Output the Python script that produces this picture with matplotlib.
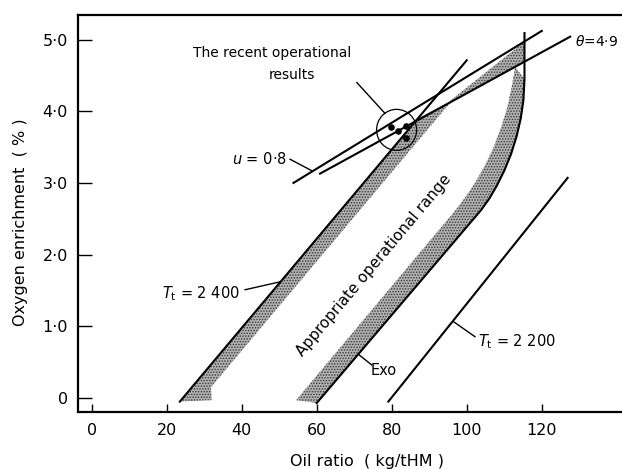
import matplotlib
matplotlib.use("Agg")
import matplotlib.pyplot as plt
from matplotlib.patches import Polygon, Ellipse
import numpy as np

plt.rcParams['font.family'] = ['DejaVu Sans']
plt.rcParams['mathtext.fontset'] = 'dejavusans'
plt.rcParams['hatch.linewidth'] = 0.7

# ---- data ----
x_ticks = [0, 20, 40, 60, 80, 100, 120]
x_ticklabels = ['0', '20', '40', '60', '80', '100', '120']
y_ticks = [0, 1, 2, 3, 4, 5]
y_ticklabels = ['0', '1·0', '2·0', '3·0', '4·0', '5·0']

# T_t = 2400 boundary line
t2400_x = [23.5, 100.0]
t2400_y = [-0.05, 4.71]
# T_t = 2200 line
t2200_x = [79.1, 126.9]
t2200_y = [-0.05, 3.07]
# u = 0.8 line
u_x = [53.8, 120.0]
u_y = [3.00, 5.12]
# theta = 4.9 line
theta_x = [60.9, 127.6]
theta_y = [3.13, 5.04]
# Exo curve
exo_x = [60.0, 103.8, 106.0, 108.0, 110.0, 111.8, 113.3, 114.4, 115.1, 115.4, 115.4]
exo_y = [-0.07, 2.62, 2.78, 2.96, 3.17, 3.40, 3.65, 3.90, 4.15, 4.45, 5.09]
# inner edge of the Exo band
exo_in_x = [54.5, 97.0, 99.6, 102.2, 104.8, 107.2, 109.2, 110.9, 112.1, 112.9]
exo_in_y = [-0.03, 2.62, 2.80, 3.00, 3.24, 3.50, 3.78, 4.07, 4.37, 4.62]
# left band (right of T_t = 2400)
left_band_x = [23.5, 86.4, 95.6, 31.8, 32.0]
left_band_y = [-0.05, 3.86, 4.12, 0.15, -0.03]
# upper band between u and theta lines
upper_band_x = [86.0, 115.4, 115.4, 86.0]
upper_band_y = [3.75, 4.97, 4.69, 3.87]
# recent operational results
pts_x = [79.7, 81.8, 83.8, 83.8]
pts_y = [3.78, 3.73, 3.79, 3.62]
circle_c = (81.3, 3.74)

fig = plt.figure(figsize=(6.22, 4.69), dpi=100)
W, H = 622, 469
l, r, b, t = 77.7, 622, 411.7, 15
ax = fig.add_axes([l / W, 1 - b / H, (r - l) / W, (b - t) / H])
ax.set_xlim(-3.73, 141.4)
ax.set_ylim(-0.191, 5.342)
ax.spines['right'].set_visible(False)
for s in ['left', 'bottom', 'top']:
    ax.spines[s].set_linewidth(1.6)

band = dict(facecolor='#b0b0b0', edgecolor='#3a3a3a', hatch='......', lw=0, zorder=1)
ax.add_patch(Polygon(list(zip(left_band_x, left_band_y)), closed=True, **band))
ax.add_patch(Polygon(list(zip(upper_band_x, upper_band_y)), closed=True, **band))
rb = list(zip(exo_x[:-1], exo_y[:-1])) + [(112.9, 4.62)] + list(zip(exo_in_x[::-1], exo_in_y[::-1]))
ax.add_patch(Polygon(rb, closed=True, **band))

lw = 1.5
ax.plot(t2400_x, t2400_y, color='black', lw=lw, zorder=3)
ax.plot(t2200_x, t2200_y, color='black', lw=lw, zorder=3)
ax.plot(u_x, u_y, color='black', lw=lw, zorder=3)
ax.plot(theta_x, theta_y, color='black', lw=lw, zorder=3)
ax.plot(exo_x, exo_y, color='black', lw=lw, zorder=3)

ax.add_patch(Ellipse(circle_c, width=40 / 3.75, height=41 / 71.7, facecolor='none',
                     edgecolor='black', lw=0.9, zorder=3))
ax.scatter(pts_x, pts_y, s=14, color='black', zorder=4)

# leaders
lk = dict(color='black', lw=1.0, zorder=3)
ax.plot([70.7, 78.2], [4.40, 3.97], **lk)
ax.plot([52.9, 58.7], [3.33, 3.17], **lk)
ax.plot([40.9, 50.2], [1.51, 1.62], **lk)
ax.plot([102.2, 96.6], [0.855, 1.06], **lk)
ax.plot([74.7, 71.1], [0.46, 0.61], **lk)

fs = 10.5
ax.text(48.0, 4.81, 'The recent operational', ha='center', va='center', fontsize=10)
ax.text(53.3, 4.50, 'results', ha='center', va='center', fontsize=10)
ax.text(44.7, 3.33, r'$u$ = 0·8', ha='center', va='center', fontsize=fs)
ax.text(128.8, 4.97, r'$\theta$=4·9', ha='left', va='center', fontsize=10)
ax.text(29.0, 1.46, r'$T_{\rm t}$ = 2 400', ha='center', va='center', fontsize=fs)
ax.text(103.0, 0.785, r'$T_{\rm t}$ = 2 200', ha='left', va='center', fontsize=fs)
ax.text(74.3, 0.39, 'Exo', ha='left', va='center', fontsize=fs)
ax.text(75.3, 1.85, 'Appropriate operational range', ha='center', va='center',
        rotation=50, rotation_mode='anchor', fontsize=11)

ax.set_xticks(x_ticks)
ax.set_xticklabels(x_ticklabels)
ax.set_yticks(y_ticks)
ax.set_yticklabels(y_ticklabels)
ax.tick_params(axis='x', direction='in', length=6, width=1.0, labelsize=11.5, pad=8)
ax.tick_params(axis='y', direction='in', length=10, width=1.0, labelsize=11.5, pad=7)
ax.tick_params(top=False, right=False)

ax.set_xlabel('Oil ratio  ( kg/tHM )', fontsize=11.5)
ax.xaxis.set_label_coords((367 - l) / (r - l), -(454 - b) / (b - t))
ax.set_ylabel('Oxygen enrichment  ( % )', fontsize=11.5)
ax.yaxis.set_label_coords(-(l - 28) / (r - l), (b - 222) / (b - t))

fig.savefig('out.png', dpi=100)
